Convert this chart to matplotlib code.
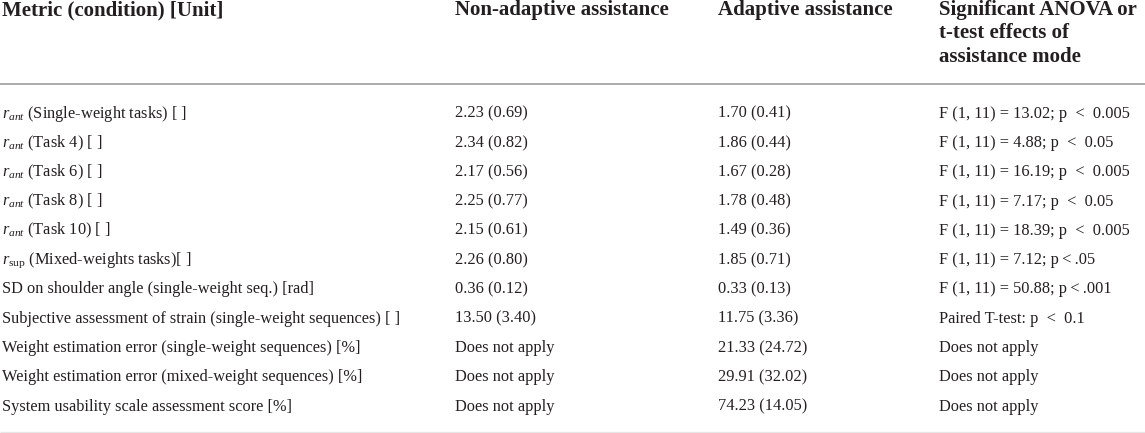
import matplotlib
matplotlib.use("Agg")
import matplotlib.pyplot as plt

plt.rcParams['font.family'] = ['Liberation Serif', 'DejaVu Serif']
plt.rcParams['mathtext.fontset'] = 'custom'
plt.rcParams['mathtext.rm'] = 'Liberation Serif'
plt.rcParams['mathtext.it'] = 'Liberation Serif:italic'
plt.rcParams['mathtext.bf'] = 'Liberation Serif:bold'

# ---- table content ----
headers = [
    ["Metric (condition) [Unit]"],
    ["Non-adaptive assistance"],
    ["Adaptive assistance"],
    ["Significant ANOVA or", "t-test effects of", "assistance mode"],
]

metrics = [
    r"$r_{ant}$ (Single-weight tasks) [ ]",
    r"$r_{ant}$ (Task 4) [ ]",
    r"$r_{ant}$ (Task 6) [ ]",
    r"$r_{ant}$ (Task 8) [ ]",
    r"$r_{ant}$ (Task 10) [ ]",
    r"$r_{\mathrm{sup}}$ (Mixed-weights tasks)[ ]",
    "SD on shoulder angle (single-weight seq.) [rad]",
    "Subjective assessment of strain (single-weight sequences) [ ]",
    "Weight estimation error (single-weight sequences) [%]",
    "Weight estimation error (mixed-weight sequences) [%]",
    "System usability scale assessment score [%]",
]

non_adaptive = [
    "2.23 (0.69)", "2.34 (0.82)", "2.17 (0.56)", "2.25 (0.77)", "2.15 (0.61)",
    "2.26 (0.80)", "0.36 (0.12)", "13.50 (3.40)",
    "Does not apply", "Does not apply", "Does not apply",
]

adaptive = [
    "1.70 (0.41)", "1.86 (0.44)", "1.67 (0.28)", "1.78 (0.48)", "1.49 (0.36)",
    "1.85 (0.71)", "0.33 (0.13)", "11.75 (3.36)",
    "21.33 (24.72)", "29.91 (32.02)", "74.23 (14.05)",
]

effects = [
    "F (1, 11) = 13.02; p  <  0.005",
    "F (1, 11) = 4.88; p  <  0.05",
    "F (1, 11) = 16.19; p  <  0.005",
    "F (1, 11) = 7.17; p  <  0.05",
    "F (1, 11) = 18.39; p  <  0.005",
    "F (1, 11) = 7.12; p\u2009<\u2009.05",
    "F (1, 11) = 50.88; p\u2009<\u2009.001",
    "Paired T-test: p  <  0.1",
    "Does not apply",
    "Does not apply",
    "Does not apply",
]

columns = [metrics, non_adaptive, adaptive, effects]

# ---- layout ----
W, H = 1145, 433
fig = plt.figure(figsize=(W / 100, H / 100), dpi=100)
ax = fig.add_axes([0, 0, 1, 1])
ax.set_xlim(0, W)
ax.set_ylim(H, 0)
ax.axis('off')

txt_color = '#231f20'
col_x = [2, 455, 718, 939]
head_base = [15.5, 38.5, 61.5]
row_base0 = 117.6
row_step = 29.3

for cx, lines in zip(col_x, headers):
    for j, line in enumerate(lines):
        ax.text(cx, head_base[j], line, fontsize=15, fontweight='bold',
                color=txt_color, ha='left', va='baseline')

ax.plot([0, W], [83.5, 83.5], color='#aaaaaa', lw=1.4, solid_capstyle='butt')
ax.plot([0, W], [431.5, 431.5], color='#e6e6e6', lw=1.0, solid_capstyle='butt')

for cx, col in zip(col_x, columns):
    for i, val in enumerate(col):
        ax.text(cx, row_base0 + i * row_step, val, fontsize=11.8,
                color=txt_color, ha='left', va='baseline')

fig.savefig("out.png", dpi=100)
